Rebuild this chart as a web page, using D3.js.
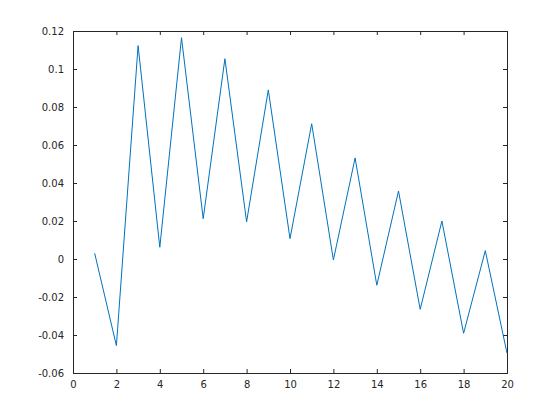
<!DOCTYPE html>
<html><head><meta charset="utf-8">
<script src="https://cdn.jsdelivr.net/npm/d3@7"></script>
<style>body{margin:0;background:#fff}svg{display:block}</style>
</head><body>
<script>
const xValues = [1,2,3,4,5,6,7,8,9,10,11,12,13,14,15,16,17,18,19,20];
const yValues = [0.003,-0.0456,0.1123,0.0062,0.1165,0.0212,0.1054,0.0196,0.089,0.0107,0.0712,-0.0005,0.0532,-0.0138,0.0358,-0.0265,0.02,-0.0391,0.0044,-0.0496];
const xTicks = [0,2,4,6,8,10,12,14,16,18,20];
const yTicks = [-0.06,-0.04,-0.02,0,0.02,0.04,0.06,0.08,0.1,0.12];
const yTickLabels = ["-0.06","-0.04","-0.02","0","0.02","0.04","0.06","0.08","0.1","0.12"];

(function(){
const W=560,H=420, L=73, R=507, T=31, B=373;
const svg=d3.select("body").append("svg").attr("width",W).attr("height",H);
const x=d3.scaleLinear().domain([0,20]).range([L,R]);
const y=d3.scaleLinear().domain([-0.06,0.12]).range([B,T]);
const axCol="#262626", font="'DejaVu Sans', sans-serif";

function style(g){
  g.select(".domain").remove();
  g.selectAll("line").attr("stroke",axCol).attr("stroke-width",1);
  g.selectAll("text").attr("fill",axCol).style("font-family",font).style("font-size","10px");
}
const gBottom=svg.append("g").attr("transform",`translate(0,${B})`)
  .call(d3.axisBottom(x).tickValues(xTicks).tickSizeInner(-4).tickSizeOuter(0).tickPadding(8).tickFormat(d3.format("d")));
style(gBottom);
const gTop=svg.append("g").attr("transform",`translate(0,${T})`)
  .call(d3.axisTop(x).tickValues(xTicks).tickSizeInner(-4).tickSizeOuter(0).tickFormat(""));
style(gTop);
const gLeft=svg.append("g").attr("transform",`translate(${L},0)`)
  .call(d3.axisLeft(y).tickValues(yTicks).tickSizeInner(-4).tickSizeOuter(0).tickPadding(9).tickFormat((d,i)=>yTickLabels[i]));
style(gLeft);
const gRight=svg.append("g").attr("transform",`translate(${R},0)`)
  .call(d3.axisRight(y).tickValues(yTicks).tickSizeInner(-4).tickSizeOuter(0).tickFormat(""));
style(gRight);
svg.append("rect").attr("x",L+0.5).attr("y",T+0.5).attr("width",R-L).attr("height",B-T)
  .attr("fill","none").attr("stroke",axCol).attr("stroke-width",1);

const line=d3.line().x((d,i)=>x(xValues[i])).y(d=>y(d));
svg.append("path").datum(yValues).attr("d",line).attr("fill","none")
  .attr("stroke","#0072BD").attr("stroke-width",1);
})();
</script>
</body></html>
